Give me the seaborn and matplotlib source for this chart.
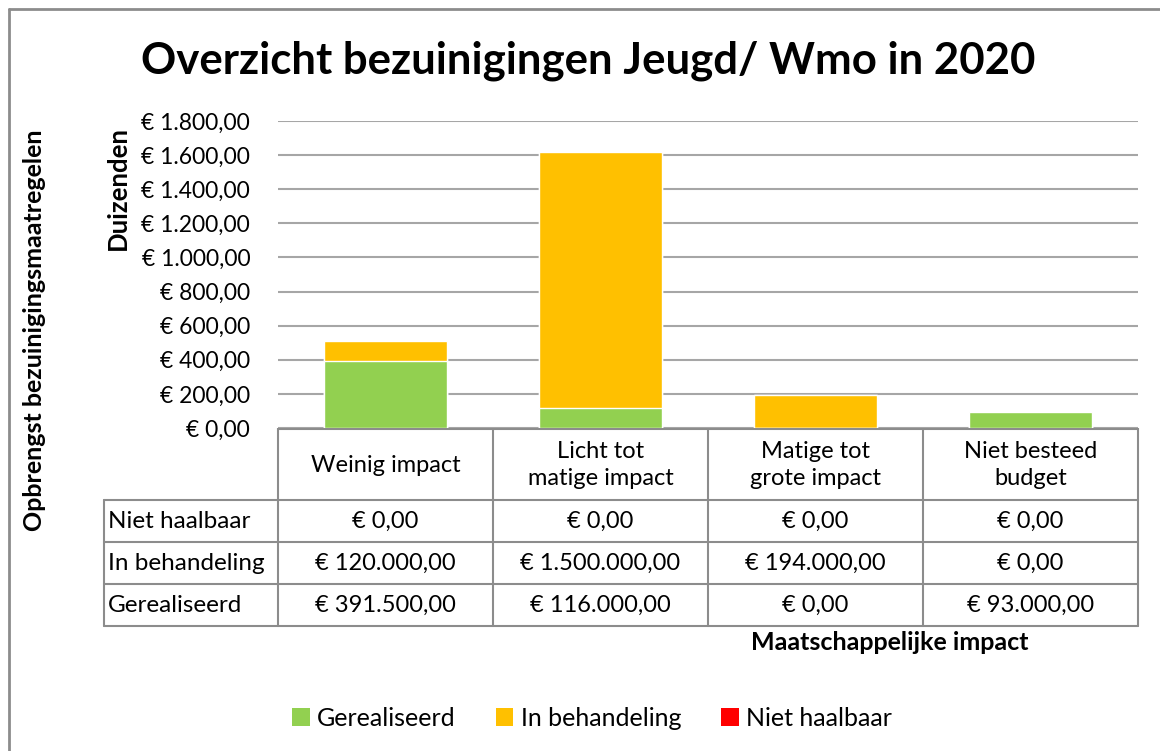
import numpy as np
import pandas as pd
import matplotlib
matplotlib.use("Agg")
import matplotlib.pyplot as plt
import seaborn as sns
from matplotlib.patches import Patch

# ---------------------- DATA ----------------------
categories = ["Weinig impact", "Licht tot\nmatige impact", "Matige tot\ngrote impact", "Niet besteed\nbudget"]
gerealiseerd = [391.5, 116.0, 0.0, 93.0]        # duizenden
in_behandeling = [120.0, 1500.0, 194.0, 0.0]
niet_haalbaar = [0.0, 0.0, 0.0, 0.0]
y_ticks = [0, 200, 400, 600, 800, 1000, 1200, 1400, 1600, 1800]
row_names = ["Niet haalbaar", "In behandeling", "Gerealiseerd"]

colors = {"Gerealiseerd": "#92D050", "In behandeling": "#FFC000", "Niet haalbaar": "#FF0000"}


def euro(v, dec=2):
    s = f"{v:,.{dec}f}"
    s = s.replace(",", "X").replace(".", ",").replace("X", ".")
    return "€ " + s


# ---------------------- FIGURE ----------------------
sns.set_style("white")
plt.rcParams["font.family"] = ["Lato", "DejaVu Sans"]
plt.rcParams["text.color"] = "black"
plt.rcParams["ytick.color"] = "black"

W, H = 1160, 751
fig = plt.figure(figsize=(W / 100, H / 100), dpi=100)


def px_axes(x0, y0, x1, y1):
    return fig.add_axes([x0 / W, 1 - y1 / H, (x1 - x0) / W, (y1 - y0) / H])


# outer frame
frame = fig.add_axes([0, 0, 1, 1])
frame.set_xlim(0, W)
frame.set_ylim(H, 0)
frame.axis("off")
frame.plot([8.5, W], [8.5, 8.5], color="#8C8C8C", lw=2)
frame.plot([8.5, 8.5], [8.5, H], color="#8C8C8C", lw=2)

# ---------------------- BARS ----------------------
ax = px_axes(278, 121, 1138, 428)
df = pd.DataFrame({
    "cat": categories,
    "g": gerealiseerd,
    "gb": np.array(gerealiseerd) + np.array(in_behandeling),
    "all": np.array(gerealiseerd) + np.array(in_behandeling) + np.array(niet_haalbaar),
})
sns.barplot(data=df, x="cat", y="all", color=colors["Niet haalbaar"], width=0.57,
            saturation=1, ax=ax, zorder=3)
sns.barplot(data=df, x="cat", y="gb", color=colors["In behandeling"], width=0.57,
            saturation=1, ax=ax, zorder=3)
sns.barplot(data=df, x="cat", y="g", color=colors["Gerealiseerd"], width=0.57,
            saturation=1, ax=ax, zorder=3)

ax.set_xlim(-0.5, 3.5)
ax.set_ylim(0, 1800)
ax.set_yticks(y_ticks)
ax.set_yticklabels([euro(t) for t in y_ticks], fontsize=16.5)
ax.tick_params(axis="y", length=0, pad=20)
ax.set_xticks([])
ax.set_xlabel("")
ax.set_ylabel("")
for s in ax.spines.values():
    s.set_visible(False)
ax.yaxis.grid(True, color="#A6A6A6", lw=1.5, zorder=0)
ax.set_axisbelow(True)

# ---------------------- DATA TABLE ----------------------
tab = px_axes(100, 428, 1140, 630)
tab.set_xlim(100, 1140)
tab.set_ylim(630, 428)
tab.axis("off")
lc, lw = "#8C8C8C", 1.5
col_edges = [278, 493, 708, 923, 1138]
row_edges = [500, 542, 584, 626]
tab.plot([278, 1138], [428.5, 428.5], color=lc, lw=lw)
for yy in row_edges:
    tab.plot([104, 1138], [yy, yy], color=lc, lw=lw)
tab.plot([104, 104], [500, 626], color=lc, lw=lw)
for xx in col_edges:
    tab.plot([xx, xx], [428, 626], color=lc, lw=lw)

series_rows = [niet_haalbaar, in_behandeling, gerealiseerd]
for i, cat in enumerate(categories):
    cx = (col_edges[i] + col_edges[i + 1]) / 2
    tab.text(cx, 465, cat, ha="center", va="center", fontsize=17, linespacing=1.3)
    for r, vals in enumerate(series_rows):
        cy = (row_edges[r] + row_edges[r + 1]) / 2
        tab.text(cx, cy, euro(vals[i] * 1000), ha="center", va="center", fontsize=17)
for r, name in enumerate(row_names):
    cy = (row_edges[r] + row_edges[r + 1]) / 2
    tab.text(108, cy, name, ha="left", va="center", fontsize=17.5)

# ---------------------- TEXTS ----------------------
fig.text(588 / W, 1 - 61 / H, "Overzicht bezuinigingen Jeugd/ Wmo in 2020",
         ha="center", va="center", fontsize=31.5, fontweight="bold")
fig.text(118 / W, 1 - 188 / H, "Duizenden", rotation=90, ha="center", va="center",
         fontsize=18.5, fontweight="bold")
fig.text(35 / W, 1 - 330 / H, "Opbrengst bezuinigingsmaatregelen", rotation=90,
         ha="center", va="center", fontsize=18, fontweight="bold")
fig.text(890 / W, 1 - 642 / H, "Maatschappelijke impact", ha="center", va="center",
         fontsize=18, fontweight="bold")

handles = [Patch(facecolor=colors[k], edgecolor="none") for k in ["Gerealiseerd", "In behandeling", "Niet haalbaar"]]
fig.legend(handles, ["Gerealiseerd", "In behandeling", "Niet haalbaar"],
           loc="center", bbox_to_anchor=(592 / W, 1 - 718 / H), ncol=3, frameon=False,
           fontsize=18, handlelength=0.7, handleheight=0.7, handletextpad=0.3,
           columnspacing=1.6)

fig.savefig("out.png", dpi=100)
